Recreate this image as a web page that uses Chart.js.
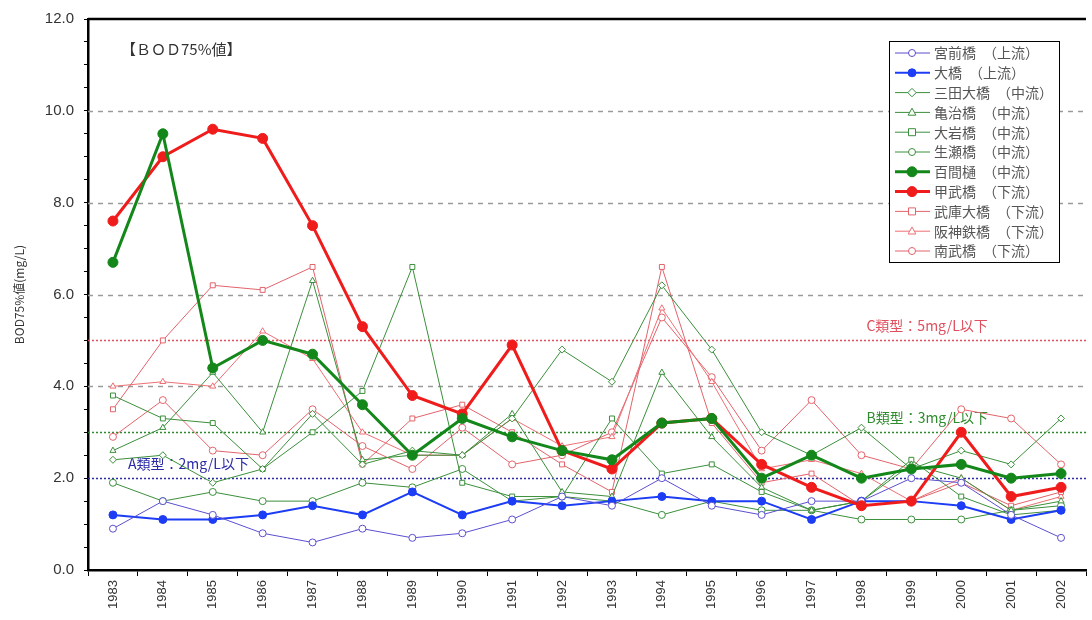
<!DOCTYPE html>
<html>
<head>
<meta charset="utf-8">
<script src="https://cdn.jsdelivr.net/npm/chart.js@4/dist/chart.umd.min.js"></script>
<style>
  html, body { margin: 0; padding: 0; background: #fff; overflow: hidden; }
  #wrap { width: 1092px; height: 620px; }
</style>
</head>
<body>
<div id="wrap"><canvas id="chart" width="1092" height="620"></canvas></div>
<script>
const years = ['1983', '1984', '1985', '1986', '1987', '1988', '1989', '1990', '1991', '1992',
               '1993', '1994', '1995', '1996', '1997', '1998', '1999', '2000', '2001', '2002'];

// BOD75%値 (mg/L)
const miyamae  = [0.9, 1.5, 1.2, 0.8, 0.6, 0.9, 0.7, 0.8, 1.1, 1.6, 1.4, 2.0, 1.4, 1.2, 1.5, 1.5, 2.0, 1.9, 1.2, 0.7];
const ohashi   = [1.2, 1.1, 1.1, 1.2, 1.4, 1.2, 1.7, 1.2, 1.5, 1.4, 1.5, 1.6, 1.5, 1.5, 1.1, 1.5, 1.5, 1.4, 1.1, 1.3];
const sanda    = [2.4, 2.5, 1.9, 2.2, 3.4, 2.3, 2.6, 2.5, 3.3, 4.8, 4.1, 6.2, 4.8, 3.0, 2.5, 3.1, 2.2, 2.6, 2.3, 3.3];
const kameji   = [2.6, 3.1, 4.3, 3.0, 6.3, 2.4, 2.5, 2.5, 3.4, 1.7, 1.6, 4.3, 2.9, 1.8, 1.3, 1.5, 2.3, 2.0, 1.3, 1.5];
const ooiwa    = [3.8, 3.3, 3.2, 2.2, 3.0, 3.9, 6.6, 1.9, 1.6, 1.6, 3.3, 2.1, 2.3, 1.7, 1.3, 1.5, 2.4, 1.6, 1.2, 1.3];
const namaze   = [1.9, 1.5, 1.7, 1.5, 1.5, 1.9, 1.8, 2.2, 1.5, 1.6, 1.5, 1.2, 1.5, 1.3, 1.3, 1.1, 1.1, 1.1, 1.3, 1.4];
const hyakken  = [6.7, 9.5, 4.4, 5.0, 4.7, 3.6, 2.5, 3.3, 2.9, 2.6, 2.4, 3.2, 3.3, 2.0, 2.5, 2.0, 2.2, 2.3, 2.0, 2.1];
const kobu     = [7.6, 9.0, 9.6, 9.4, 7.5, 5.3, 3.8, 3.4, 4.9, 2.6, 2.2, 3.2, 3.3, 2.3, 1.8, 1.4, 1.5, 3.0, 1.6, 1.8];
const mukoOhashi = [3.5, 5.0, 6.2, 6.1, 6.6, 2.3, 3.3, 3.6, 3.0, 2.3, 1.7, 6.6, 3.2, 1.9, 2.1, 1.4, 1.5, 1.9, 1.4, 1.7];
const hanshin  = [4.0, 4.1, 4.0, 5.2, 4.6, 3.0, 2.5, 2.5, 3.3, 2.7, 2.9, 5.7, 4.1, 2.2, 2.4, 2.1, 1.5, 2.0, 1.3, 1.6];
const nanbu    = [2.9, 3.7, 2.6, 2.5, 3.5, 2.7, 2.2, 3.1, 2.3, 2.5, 3.0, 5.5, 4.2, 2.6, 3.7, 2.5, 2.2, 3.5, 3.3, 2.3];

// 環境基準の類型
const gridValues = [4, 6, 8, 10];
const limitValues = [2, 3, 5];
const limitLabels = ['A類型：2mg/L以下', 'B類型：3mg/L以下', 'C類型：5mg/L以下'];

const BLUE = '#1c3cf5', PURPLE = '#5b4fd0', GREEN = '#3b8f3b', DGREEN = '#14871a', RED = '#f01c1c', PINK = '#e2636b';
const limitColors = ['#2b2ba8', '#2e8b2e', '#e0505e'];
const limitLabelX = [0.04, 0.78, 0.78];

function series(label, data, color, style, filled, width, radius) {
    return {
        label: label,
        data: data,
        borderColor: color,
        backgroundColor: color,
        borderWidth: width,
        pointStyle: style,
        pointRadius: radius,
        pointBorderWidth: 1,
        pointBackgroundColor: filled ? color : '#fff',
        pointBorderColor: color,
        tension: 0,
        fill: false,
        order: width > 2 ? 0 : 1,
    };
}

const datasets = [
    series('宮前橋　（上流）', miyamae, PURPLE, 'circle', false, 1, 3.5),
    series('大橋　（上流）', ohashi, BLUE, 'circle', true, 2, 4),
    series('三田大橋　（中流）', sanda, GREEN, 'rectRot', false, 1, 3.5),
    series('亀治橋　（中流）', kameji, GREEN, 'triangle', false, 1, 3.5),
    series('大岩橋　（中流）', ooiwa, GREEN, 'rect', false, 1, 3.5),
    series('生瀬橋　（中流）', namaze, GREEN, 'circle', false, 1, 3.5),
    series('百間樋　（中流）', hyakken, DGREEN, 'circle', true, 3, 5),
    series('甲武橋　（下流）', kobu, RED, 'circle', true, 3, 5),
    series('武庫大橋　（下流）', mukoOhashi, PINK, 'rect', false, 1, 3.5),
    series('阪神鉄橋　（下流）', hanshin, '#ee6f74', 'triangle', false, 1, 3.5),
    series('南武橋　（下流）', nanbu, PINK, 'circle', false, 1, 3.5),
];

function drawMarker(ctx, style, x, y, r) {
    ctx.beginPath();
    if (style === 'rect') {
        ctx.rect(x - r, y - r, r * 2, r * 2);
    } else if (style === 'rectRot') {
        ctx.moveTo(x, y - r * 1.2); ctx.lineTo(x + r * 1.2, y);
        ctx.lineTo(x, y + r * 1.2); ctx.lineTo(x - r * 1.2, y); ctx.closePath();
    } else if (style === 'triangle') {
        ctx.moveTo(x, y - r * 1.2); ctx.lineTo(x + r * 1.1, y + r * 0.8);
        ctx.lineTo(x - r * 1.1, y + r * 0.8); ctx.closePath();
    } else {
        ctx.arc(x, y, r, 0, Math.PI * 2);
    }
    ctx.fill();
    ctx.stroke();
}

// 基準線・罫線（データの下に描く）
const refLines = {
    id: 'refLines',
    beforeDatasetsDraw(chart) {
        const { ctx, chartArea: a, scales: { y } } = chart;
        ctx.save();
        ctx.lineWidth = 1.5;
        ctx.strokeStyle = '#9a9a9a';
        ctx.setLineDash([5, 5]);
        gridValues.forEach(v => {
            const py = Math.round(y.getPixelForValue(v)) + 0.5;
            ctx.beginPath(); ctx.moveTo(a.left, py); ctx.lineTo(a.right, py); ctx.stroke();
        });
        ctx.setLineDash([2, 2]);
        ctx.font = '14px "Noto Sans CJK JP"';
        ctx.textBaseline = 'middle';
        limitValues.forEach((v, i) => {
            const py = Math.round(y.getPixelForValue(v)) + 0.5;
            ctx.strokeStyle = limitColors[i];
            ctx.beginPath(); ctx.moveTo(a.left, py); ctx.lineTo(a.right, py); ctx.stroke();
            ctx.fillStyle = limitColors[i];
            ctx.fillText(limitLabels[i], a.left + (a.right - a.left) * limitLabelX[i], py - 15);
        });
        ctx.restore();
    },
    afterDraw(chart) {
        const { ctx, chartArea: a } = chart;
        ctx.save();
        // 上枠
        ctx.strokeStyle = '#000';
        ctx.lineWidth = 2.5;
        ctx.beginPath(); ctx.moveTo(a.left, a.top); ctx.lineTo(a.right, a.top); ctx.stroke();

        // 見出し
        ctx.fillStyle = '#333';
        ctx.font = '15px "Noto Sans CJK JP"';
        ctx.textBaseline = 'middle';
        ctx.fillText('【ＢＯＤ75%値】', a.left + 33, 49);

        // 凡例
        const bx = 889, by = 41, bw = 170, bh = 221;
        ctx.fillStyle = '#fff';
        ctx.fillRect(bx, by, bw, bh);
        ctx.lineWidth = 1;
        ctx.strokeStyle = '#000';
        ctx.strokeRect(bx + 0.5, by + 0.5, bw, bh);
        ctx.font = '14px "Noto Sans CJK JP"';
        chart.data.datasets.forEach((ds, i) => {
            const ry = 53 + i * 19.8;
            ctx.strokeStyle = ds.borderColor;
            ctx.lineWidth = ds.borderWidth;
            ctx.beginPath(); ctx.moveTo(895, ry); ctx.lineTo(930, ry); ctx.stroke();
            ctx.lineWidth = 1;
            ctx.fillStyle = ds.pointBackgroundColor;
            drawMarker(ctx, ds.pointStyle, 912, ry, ds.pointRadius);
            ctx.fillStyle = '#555';
            ctx.fillText(ds.label, 934, ry);
        });
        ctx.restore();
    }
};

const ctx = document.getElementById('chart').getContext('2d');

const chart = new Chart(ctx, {
    type: 'line',
    data: {
        labels: years,
        datasets: datasets,
    },
    options: {
        responsive: false,
        animation: false,
        layout: { padding: { top: 18, right: 0, left: 0, bottom: 0 } },
        plugins: {
            legend: { display: false },
            tooltip: { enabled: false },
        },
        scales: {
            x: {
                type: 'category',
                offset: true,
                grid: { offset: true, drawOnChartArea: false, color: '#000', tickLength: 6 },
                border: { color: '#000', width: 2.5 },
                ticks: {
                    minRotation: 90,
                    maxRotation: 90,
                    autoSkip: false,
                    padding: 4,
                    color: '#333',
                    font: { family: 'Liberation Sans', size: 13 },
                },
                afterFit: s => { s.height = 50; },
            },
            y: {
                min: 0,
                max: 12,
                grid: { drawOnChartArea: false, color: '#000', tickLength: 4 },
                border: { color: '#000', width: 2.5 },
                ticks: {
                    stepSize: 0.5,
                    autoSkip: false,
                    padding: 10,
                    color: '#333',
                    font: { family: 'Liberation Sans', size: 15 },
                    callback: v => (v % 2 === 0 ? v.toFixed(1) : ''),
                },
                title: {
                    display: true,
                    text: 'BOD75%値(mg/L)',
                    color: '#333',
                    font: { family: 'Noto Sans CJK JP', size: 12 },
                    padding: { top: 12, bottom: 0 },
                },
                afterFit: s => { s.width = 88; },
            },
        },
    },
    plugins: [refLines],
});
</script>
</body>
</html>
